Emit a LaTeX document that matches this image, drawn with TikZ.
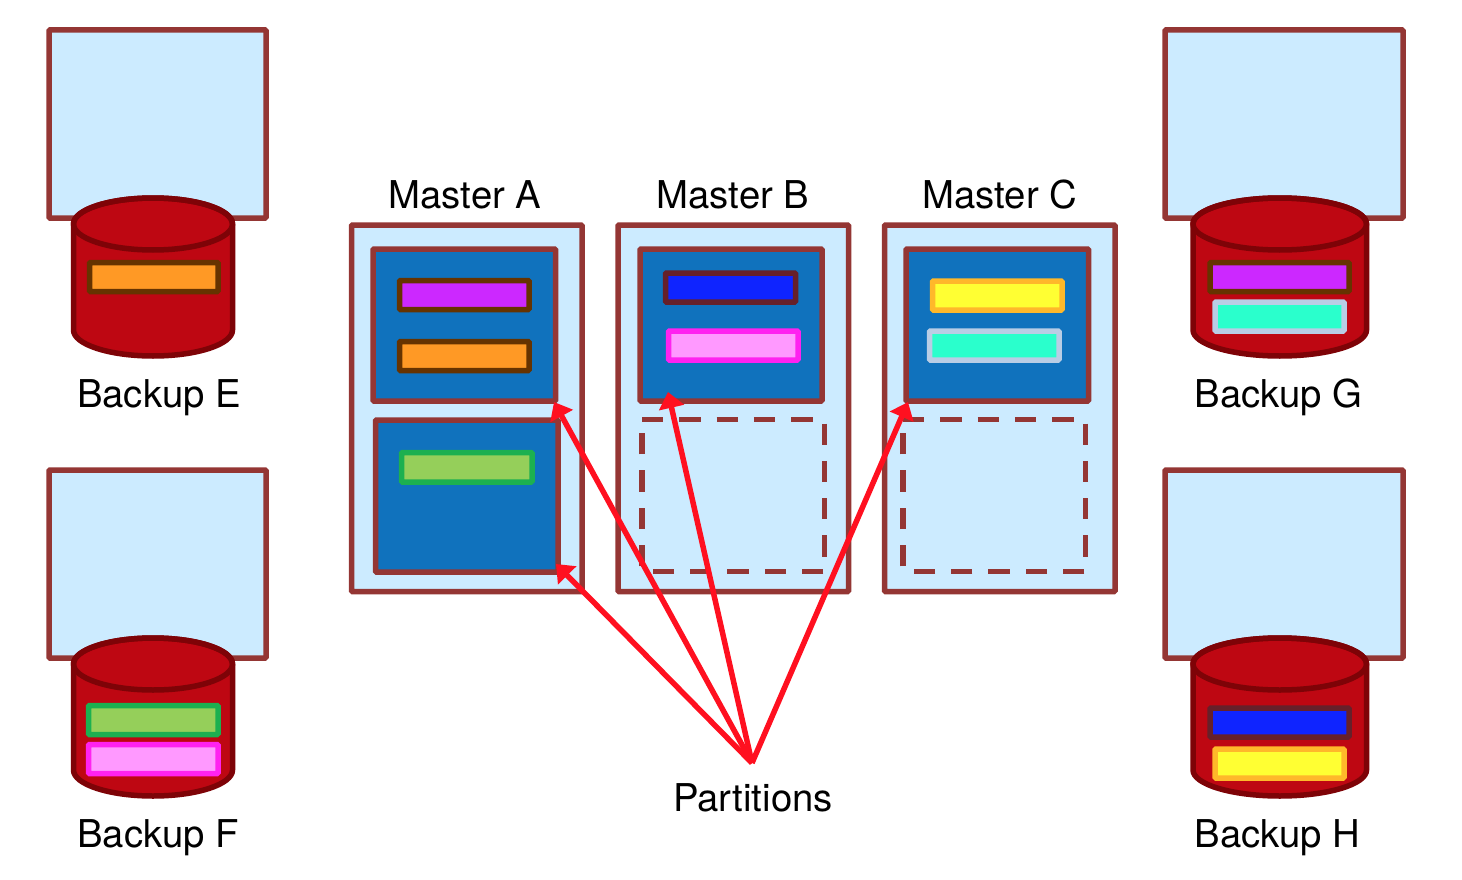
\documentclass[tikz,border=0pt]{standalone}
\usepackage{fontspec}
\setmainfont{TeX Gyre Heros}
\usetikzlibrary{arrows.meta}
\definecolor{lb}{HTML}{CCEBFF}
\definecolor{bord}{HTML}{943634}
\definecolor{pblue}{HTML}{1072BD}
\definecolor{cred}{HTML}{BE0712}
\definecolor{cdark}{HTML}{7E0307}
\definecolor{brownb}{HTML}{663300}
\definecolor{arrowred}{HTML}{FF1020}
\definecolor{fpurple}{HTML}{CC28FF}
\definecolor{forange}{HTML}{FF9925}
\definecolor{fgreen}{HTML}{95CF5A}
\definecolor{bgreen}{HTML}{1CB050}
\definecolor{fblue}{HTML}{0F24FF}
\definecolor{bblue}{HTML}{66202A}
\definecolor{fpink}{HTML}{FF99FF}
\definecolor{bpink}{HTML}{FF22F0}
\definecolor{fyellow}{HTML}{FFFF33}
\definecolor{byellow}{HTML}{FFB82A}
\definecolor{fcyan}{HTML}{2AFFCC}
\definecolor{bcyan}{HTML}{B9CDE5}
\tikzset{
  x=1pt,y=-1pt,
  box/.style={draw=bord,fill=lb,line width=5.5pt,rounded corners=1pt,inner sep=0pt,outer sep=0pt},
  pbox/.style={box,fill=pblue},
  ghost/.style={fill=lb,draw=none,inner sep=0pt,outer sep=0pt},
  dashline/.style={draw=bord,line width=5.5pt,dash pattern=on 21.3pt off 16pt},
  part/.style 2 args={draw=#1,fill=#2,line width=5.5pt,rounded corners=1pt,inner sep=0pt,outer sep=0pt},
  ppurple/.style={part={brownb}{fpurple}},
  porange/.style={part={brownb}{forange}},
  pgreen/.style={part={bgreen}{fgreen}},
  pbluepart/.style={part={bblue}{fblue}},
  ppink/.style={part={bpink}{fpink}},
  pyellow/.style={part={byellow}{fyellow}},
  pcyan/.style={part={bcyan}{fcyan}},
  lab/.style={font=\fontsize{38.3}{40}\selectfont,anchor=base,inner sep=0pt,text=black},
  arr/.style={draw=arrowred,line width=5.5pt,-{Triangle[length=16pt,width=25pt]}},
}
% name, x1, y1, x2, y2, style
\newcommand\bx[6]{\node[#6,minimum width=#4pt-#2pt,minimum height=#5pt-#3pt] (#1) at ({(#2+#4)/2},{(#3+#5)/2}) {};}
% name, x1, x2, ytop-centre, ybottom-centre
\newcommand\cyl[5]{%
  \pgfmathsetmacro\rx{(#3-#2)/2}%
  \filldraw[draw=cdark,fill=cred,line width=5.5pt]
    (#2,#4) -- (#2,#5) arc[start angle=180,end angle=360,x radius=\rx,y radius=-26] -- (#3,#4) arc[start angle=0,end angle=180,x radius=\rx,y radius=-26] -- cycle;
  \draw[draw=cdark,line width=5.5pt] ({(#2+#3)/2},#4) ellipse[x radius=\rx,y radius=26];
  \coordinate (#1) at ({(#2+#3)/2},#4);
}
% dashed outline, clockwise from the top left corner
\newcommand\dashedarea[5]{%
  \bx{#1}{#2}{#3}{#4}{#5}{ghost}
  \draw[dashline] (#1.north west) -- (#1.north east) -- (#1.south east) -- (#1.south west) -- cycle;
}
\begin{document}
\begin{tikzpicture}
\useasboundingbox (0,0) rectangle (1462,880);
% backup servers
\bx{srvE}{49}{30}{266}{218}{box}
\bx{srvF}{49}{470}{266}{658}{box}
\bx{srvG}{1165}{30}{1403}{218}{box}
\bx{srvH}{1165}{470}{1403}{658}{box}
\cyl{cylE}{73.5}{232.5}{224}{330}
\cyl{cylF}{73.5}{232.5}{664}{770}
\cyl{cylG}{1193}{1366.5}{224}{330}
\cyl{cylH}{1193}{1366.5}{664}{770}
% backup partitions
\bx{eOrange}{89.5}{262.5}{218}{291.5}{porange}
\bx{fGreen}{88.5}{705.5}{218}{734.5}{pgreen}
\bx{fPink}{88.5}{744.5}{218}{773.5}{ppink}
\bx{gPurple}{1210}{262.5}{1349}{291.5}{ppurple}
\bx{gCyan}{1215}{302}{1344}{331}{pcyan}
\bx{hBlue}{1210}{708}{1349}{737}{pbluepart}
\bx{hYellow}{1215}{749}{1344}{778}{pyellow}
% masters
\bx{mA}{351.5}{225}{582}{591.5}{box}
\bx{mB}{618}{225}{848.5}{591.5}{box}
\bx{mC}{884.5}{225}{1115}{591.5}{box}
\bx{aTop}{373}{249}{555.5}{401}{pbox}
\bx{aLow}{375.5}{420}{558}{572}{pbox}
\bx{bTop}{640}{249}{822}{401}{pbox}
\bx{cTop}{906}{249}{1088.5}{401}{pbox}
\dashedarea{bDash}{642}{419.5}{824.5}{571.5}
\dashedarea{cDash}{903}{419.5}{1085.5}{571.5}
\bx{aPurple}{399.5}{280.5}{529}{309.5}{ppurple}
\bx{aOrange}{399.5}{341.5}{529}{370.5}{porange}
\bx{aGreen}{401.5}{452.5}{532}{482}{pgreen}
\bx{bBlue}{665.5}{273}{795.5}{302}{pbluepart}
\bx{bPink}{668.5}{331}{798}{360}{ppink}
\bx{cYellow}{932.5}{281}{1062}{310}{pyellow}
\bx{cCyan}{929.5}{331}{1059}{360}{pcyan}
% labels
\node[lab] (lblA) at (465,208.5) {Master A};
\node[lab] (lblB) at (733,208.5) {Master B};
\node[lab] (lblC) at (1000,208.5) {Master C};
\node[lab] (lblE) at (159,407.5) {Backup E};
\node[lab] (lblF) at (158,847.5) {Backup F};
\node[lab] (lblG) at (1278.5,407.5) {Backup G};
\node[lab] (lblH) at (1277.5,847.5) {Backup H};
\node[lab] (lblP) at (753,811.5) {Partitions};
% arrows
\coordinate (src) at (752,763);
\coordinate (tipAtop) at (554,402);
\coordinate (tipAlow) at (556,564);
\coordinate (tipB) at (668,392);
\coordinate (tipC) at (908,402);
\draw[arr] (src) -- (tipAtop);
\draw[arr] (src) -- (tipAlow);
\draw[arr] (src) -- (tipB);
\draw[arr] (src) -- (tipC);
\end{tikzpicture}
\end{document}
